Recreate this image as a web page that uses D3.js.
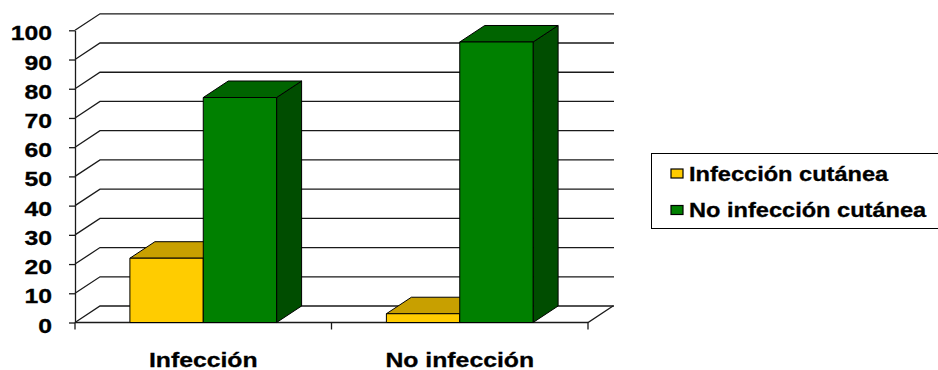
<!DOCTYPE html>
<html>
<head>
<meta charset="utf-8">
<script src="https://cdn.jsdelivr.net/npm/d3@7"></script>
<style>
  html, body { margin: 0; padding: 0; background: #fff; }
  svg { display: block; }
  text { font-family: "Liberation Sans", Arial, sans-serif; font-weight: bold; fill: #000; stroke: #000; stroke-width: 0.3px; }
</style>
</head>
<body>
<svg id="chart" width="938" height="370"></svg>
<script>
// Data
const categories = ["Infección", "No infección"];
const seriesNames = ["Infección cutánea", "No infección cutánea"];
const infeccionCutanea = [22, 3];
const noInfeccionCutanea = [77, 96];
const yTicks = [0, 10, 20, 30, 40, 50, 60, 70, 80, 90, 100];

// Face colours per series: front, top, side
const faceColors = [
  { front: "#FFCC00", top: "#C8A000", side: "#997A00" },
  { front: "#008000", top: "#006400", side: "#004D00" }
];

const svg = d3.select("#chart");
const textStretch = 1.18;

// Plot geometry: front floor edge and the oblique depth offset
const x0 = 75, x1 = 588;
const depthX = 25, depthY = -16.5;
const backRight = 614;

const y = d3.scaleLinear().domain([0, 100]).range([322.5, 30.3]);
const x = d3.scaleBand().domain(categories).range([x0, x1])
  .paddingInner(0.428).paddingOuter(0.214);
const xs = d3.scaleBand().domain(seriesNames).range([0, x.bandwidth()]);

const values = [infeccionCutanea, noInfeccionCutanea];

// Back wall gridlines with their left-wall diagonals
const grid = svg.append("g").attr("fill", "none").attr("stroke", "#1a1a1a").attr("stroke-width", 1.3);
yTicks.forEach(t => {
  grid.append("path").attr("d",
    `M${x0},${y(t)} L${x0 + depthX},${y(t) + depthY} L${backRight},${y(t) + depthY}`);
});
// Floor: front edge and right diagonal
grid.append("path").attr("d",
  `M${x0},${y(0)} L${x1},${y(0)} L${x1 + depthX},${y(0) + depthY}`);

// 3D columns
const bars = svg.append("g").attr("stroke", "#000").attr("stroke-width", 1).attr("stroke-linejoin", "round");
categories.forEach((c, ci) => {
  seriesNames.forEach((s, si) => {
    const v = values[si][ci];
    const bx = x(c) + xs(s), bw = xs.bandwidth();
    const yt = y(v), yb = y(0);
    const col = faceColors[si];
    const g = bars.append("g");
    g.append("path").attr("fill", col.side).attr("d",
      `M${bx + bw},${yt} L${bx + bw + depthX},${yt + depthY} L${bx + bw + depthX},${yb + depthY} L${bx + bw},${yb} Z`);
    g.append("path").attr("fill", col.top).attr("d",
      `M${bx},${yt} L${bx + depthX},${yt + depthY} L${bx + bw + depthX},${yt + depthY} L${bx + bw},${yt} Z`);
    g.append("rect").attr("fill", col.front)
      .attr("x", bx).attr("y", yt).attr("width", bw).attr("height", yb - yt);
  });
});

// Value axis
const yAxis = svg.append("g").attr("transform", `translate(${x0},0)`)
  .call(d3.axisLeft(y).tickValues(yTicks).tickSize(6).tickSizeOuter(0).tickFormat(d3.format("d")));
yAxis.select(".domain").attr("stroke", "#1a1a1a").attr("stroke-width", 1.3);
yAxis.selectAll(".tick line").attr("stroke", "#1a1a1a").attr("stroke-width", 1.3);
yAxis.selectAll(".tick text")
  .attr("x", 0).attr("dy", "0.36em")
  .attr("font-size", 21)
  .attr("text-anchor", "end")
  .attr("transform", `translate(-23,2) scale(${textStretch},1)`);

// Category axis: ticks at band boundaries, labels centred on bands
const step = x.step();
const bounds = [x0, x0 + step, x0 + 2 * step];
svg.append("g").attr("stroke", "#1a1a1a").attr("stroke-width", 1.3)
  .selectAll("line").data(bounds).join("line")
  .attr("x1", d => d).attr("x2", d => d)
  .attr("y1", y(0)).attr("y2", y(0) + 7);

svg.append("g").selectAll("text").data(categories).join("text")
  .attr("font-size", 21)
  .attr("text-anchor", "middle")
  .attr("transform", d => `translate(${x(d) + x.bandwidth() / 2},366.5) scale(${textStretch},1)`)
  .text(d => d);

// Legend
const legend = svg.append("g");
legend.append("rect")
  .attr("x", 651.5).attr("y", 153.5).attr("width", 300).attr("height", 75)
  .attr("fill", "#fff").attr("stroke", "#000").attr("stroke-width", 1);
const legendRows = [173.5, 210];
seriesNames.forEach((s, i) => {
  legend.append("rect")
    .attr("x", 671).attr("y", legendRows[i] - 4.5).attr("width", 12).attr("height", 9)
    .attr("fill", faceColors[i].front).attr("stroke", "#000").attr("stroke-width", 1.2);
  legend.append("text")
    .attr("font-size", 20)
    .attr("transform", `translate(689,${legendRows[i] + 7}) scale(${textStretch},1)`)
    .text(s);
});
</script>
</body>
</html>
